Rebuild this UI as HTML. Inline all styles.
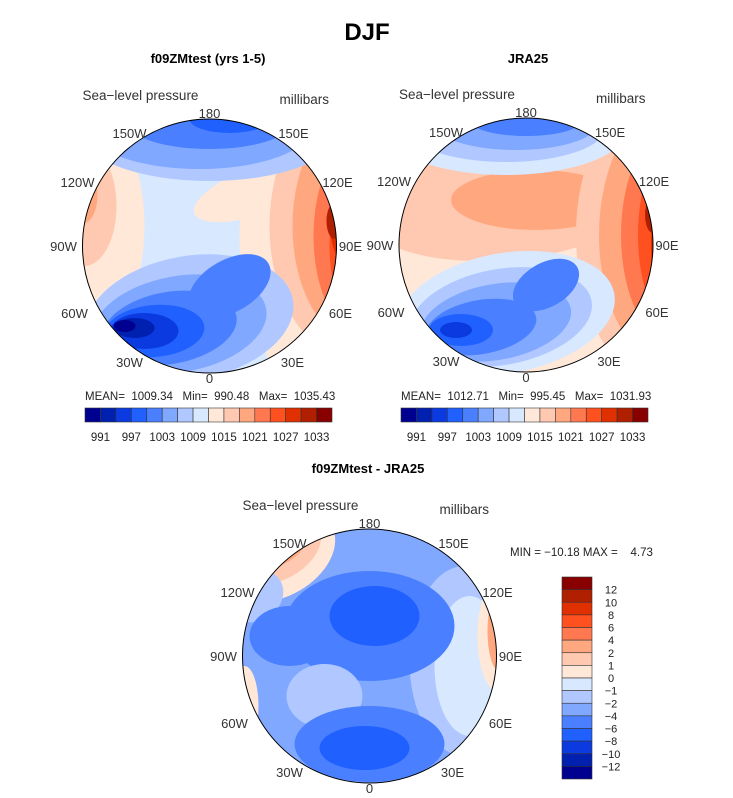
<!DOCTYPE html>
<html><head><meta charset="utf-8">
<style>
html,body{margin:0;padding:0;background:#fff;}
svg{display:block;font-family:"Liberation Sans",sans-serif;}
.lab{font-size:13px;fill:#333;text-anchor:middle;}
.sub{font-size:13px;font-weight:bold;text-anchor:middle;fill:#000;}
.hd{font-size:13.5px;fill:#333;}
.pre{white-space:pre;}
</style></head>
<body>
<svg id="svg" width="733" height="798" viewBox="0 0 733 798" xmlns="http://www.w3.org/2000/svg">
<text x="367" y="40" font-size="24" font-weight="bold" text-anchor="middle">DJF</text>
<text class="sub" x="208" y="63">f09ZMtest (yrs 1-5)</text>
<text class="sub" x="528" y="63">JRA25</text>
<text class="sub" x="368" y="473">f09ZMtest - JRA25</text>
<g id="maps"></g>
</svg>
<script>
const colors=["#000090","#0020b0","#0a3ae0","#2060ff","#4a80ff","#80a8ff","#b0c8ff","#d8e8ff","#ffe8d8","#ffc8b0","#ffa880","#ff7850","#ff5020","#e03000","#b02000","#880000"];
const sLabels=["991","997","1003","1009","1015","1021","1027","1033"];
const dLabels=["12","10","8","6","4","2","1","0","\u22121","\u22122","\u22124","\u22126","\u22128","\u221210","\u221212"];
const stats1=["1009.34","990.48","1035.43"];
const stats2=["1012.71","995.45","1031.93"];
const stats3=["\u221210.18","4.73"];
// blobs: [colorIndex, cx, cy, rx, ry, rot]
const blobs1=[[8,-120,-20,55,110,0],[9,-125,-40,32,60,0],[10,-128,-50,16,28,0],
[8,110,80,60,110,-20],[8,60,-60,80,25,-20],[8,130,-10,100,160,0],[9,140,-20,80,130,0],[10,145,-20,62,112,0],[11,150,-10,46,96,0],[12,152,0,32,76,0],[13,140,-25,20,45,0],[14,125,-25,8,18,0],
[6,0,-115,130,50,0],[5,-10,-117,110,40,0],[4,0,-122,80,25,0],[3,20,-127,40,14,0],
[6,-20,72,105,62,-10],[5,-30,78,88,48,-10],[4,-40,82,68,36,-10],[4,20,40,45,26,-30],[3,-55,85,50,26,-5],[2,-65,85,34,18,0],[1,-75,82,20,10,0],[0,-85,80,11,6,0]];
const blobs2=[[9,-20,-40,140,55,-5],[10,10,-45,85,30,0],
[9,140,-10,90,150,0],[10,145,-10,72,130,0],[11,150,-10,55,110,0],[12,152,-10,40,95,0],[13,150,0,25,80,0],[14,127,-30,8,18,0],
[7,-20,-115,120,45,0],[6,-20,-118,100,35,0],[5,-10,-120,80,25,0],[4,0,-124,55,15,0],
[7,-20,68,110,60,-10],[6,-25,72,92,48,-10],[5,-30,77,76,38,-10],[4,-45,82,56,27,-10],[4,20,40,36,22,-30],[3,-65,85,32,16,0],[2,-70,85,16,8,0]];
const blobs3=[[8,-90,-100,60,40,-30],[9,-90,-105,45,28,-30],[10,-90,-110,30,18,-30],[6,-115,-60,30,25,-30],[8,-125,50,14,40,0],
[6,95,5,55,95,0],[7,100,10,35,70,0],[8,128,-20,20,55,0],[10,130,-25,12,40,0],
[4,0,-30,85,55,0],[4,-80,-20,40,30,0],[3,5,-40,45,30,0],[6,-45,40,38,32,0],
[4,0,88,75,38,0],[3,-5,92,45,22,0]];
const tickNames=["180","150W","150E","120W","120E","90W","90E","60W","60E","30W","30E","0"];
const NS="http://www.w3.org/2000/svg";
const root=document.getElementById('maps');
function mk(tag,attrs,parent){const e=document.createElementNS(NS,tag);for(const k in attrs)e.setAttribute(k,attrs[k]);(parent||root).appendChild(e);return e;}
function panel(id,cx,cy,r,base,blobs){
 const g=mk('g',{});
 
 
 const cp=mk('clipPath',{id:'cp'+id},g);mk('circle',{cx:cx,cy:cy,r:r},cp);
 const inner=mk('g',{'clip-path':'url(#cp'+id+')'},g);
 const bg=mk('rect',{x:cx-r,y:cy-r,width:2*r,height:2*r,fill:colors[base]},inner);
 
 
 blobs.forEach(b=>{const e=mk('ellipse',{cx:cx+b[1],cy:cy+b[2],rx:b[3],ry:b[4],fill:colors[b[0]],transform:`rotate(${b[5]} ${cx+b[1]} ${cy+b[2]})`},inner);
  
  });
 const c=mk('circle',{cx:cx,cy:cy,r:r,fill:'none',stroke:'#000','stroke-width':1},g);
 
 
 const off=[[0,-133],[-80,-113],[84,-113],[-132,-64],[128,-64],[-146,0],[141,0],[-135,67],[131,67],[-80,116],[83,116],[0,132]];
 tickNames.forEach((t,i)=>{const e=mk('text',{x:cx+off[i][0],y:cy+off[i][1]+5,class:'lab'},g);e.textContent=t;
  
  });
 const h1=mk('text',{x:cx-127,y:cy-146,class:'hd'},g);h1.textContent='Sea\u2212level pressure';
 
 
 const h2=mk('text',{x:cx+70,y:cy-142,class:'hd'},g);h2.textContent='millibars';
 
 
}
panel('p1',209.5,246,127,7,blobs1);
panel('p2',526,245,127,8,blobs2);
panel('p3',369.5,656,127,5,blobs3);
function hbar(id,x0,stats){
 const g=mk('g',{});
 
 
 const w=247/colors.length;
 colors.forEach((c,i)=>{const r=mk('rect',{x:x0+i*w,y:408,width:w,height:14,fill:c,stroke:'#333','stroke-width':0.6},g);
  
  });
 sLabels.forEach((t,i)=>{const e=mk('text',{x:x0+(2*i+1)*w,y:441,'font-size':11.5,'text-anchor':'middle',fill:'#222'},g);e.textContent=t;
  
  });
 const s=mk('text',{x:x0,y:400,'font-size':11.5,fill:'#222',class:'pre'},g);
 s.textContent='MEAN=  '+stats[0]+'   Min=  '+stats[1]+'   Max=  '+stats[2];
 
 
}
hbar('p1',85,stats1);
hbar('p2',401,stats2);
(function(){
 const g=mk('g',{});
 
 
 const h=202/colors.length;
 colors.slice().reverse().forEach((c,i)=>{const r=mk('rect',{x:562,y:577+i*h,width:30,height:h,fill:c,stroke:'#333','stroke-width':0.6},g);
  
  });
 dLabels.forEach((t,i)=>{const e=mk('text',{x:611,y:577+(i+1)*h+4,'font-size':11,'text-anchor':'middle',fill:'#222'},g);e.textContent=t;
  
  });
 const s=mk('text',{x:510,y:556,'font-size':11.5,fill:'#222',class:'pre'},g);
 s.textContent='MIN = '+stats3[0]+' MAX =    '+stats3[1];
 
 
})();
</script>
</body></html>
